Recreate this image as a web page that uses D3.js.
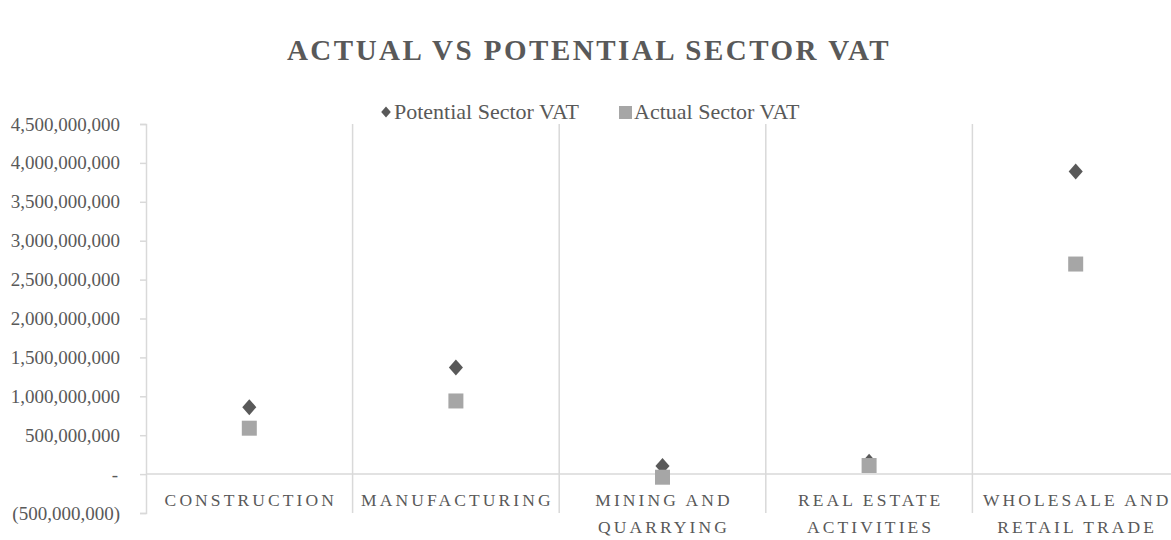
<!DOCTYPE html>
<html>
<head>
<meta charset="utf-8">
<script src="https://cdn.jsdelivr.net/npm/d3@7"></script>
<style>
  body { margin: 0; background: #fff; }
  svg { display: block; font-family: "Liberation Serif", "DejaVu Serif", serif; }
</style>
</head>
<body>
<div id="chart"></div>
<script>
// Data
const categories = [["CONSTRUCTION"], ["MANUFACTURING"], ["MINING AND", "QUARRYING"], ["REAL ESTATE", "ACTIVITIES"], ["WHOLESALE AND", "RETAIL TRADE"]];
const potentialVAT = [860000000, 1370000000, 105000000, 160000000, 3890000000];
const actualVAT = [590000000, 940000000, -40000000, 110000000, 2700000000];
const yTicks = [-500000000, 0, 500000000, 1000000000, 1500000000, 2000000000, 2500000000, 3000000000, 3500000000, 4000000000, 4500000000];
const seriesNames = ["Potential Sector VAT", "Actual Sector VAT"];

(function() {
const W = 1171, H = 540;
const left = 146, right = 1179, top = 124, bottom = 513;

const svg = d3.select("#chart")
  .append("svg")
  .attr("width", W)
  .attr("height", H);

const keys = categories.map(c => c.join(" "));
const x = d3.scaleBand().domain(keys).range([left, right]).padding(0);
const y = d3.scaleLinear().domain([-500000000, 4500000000]).range([bottom, top]);

const grid = "#d9d9d9";
const txt = "#595959";

// Title
svg.append("text")
  .attr("x", 589)
  .attr("y", 60)
  .attr("text-anchor", "middle")
  .attr("fill", txt)
  .style("font-size", "29px")
  .style("font-weight", "bold")
  .style("letter-spacing", "2.5px")
  .text("ACTUAL VS POTENTIAL SECTOR VAT");

// Vertical category dividers
svg.selectAll(".divider")
  .data(keys.slice(1).concat([null]))
  .enter()
  .append("line")
  .attr("x1", (d, i) => left + x.bandwidth() * (i + 1))
  .attr("x2", (d, i) => left + x.bandwidth() * (i + 1))
  .attr("y1", top)
  .attr("y2", bottom)
  .attr("stroke", grid)
  .attr("stroke-width", 1.5);

// Y axis
const fmt = d3.format(",");
const yAxis = svg.append("g")
  .attr("transform", `translate(${left},0)`)
  .call(d3.axisLeft(y)
    .tickValues(yTicks)
    .tickSize(6)
    .tickPadding(20)
    .tickFormat(d => d === 0 ? "-" : d < 0 ? `(${fmt(-d)})` : fmt(d)));
yAxis.select(".domain").attr("stroke", grid).attr("stroke-width", 1.5);
yAxis.selectAll(".tick line").attr("stroke", grid).attr("stroke-width", 1.5);
yAxis.selectAll(".tick text")
  .attr("fill", txt)
  .style("font-size", "19px")
  .style("font-family", "'Liberation Serif', serif");
yAxis.selectAll(".tick")
  .filter(d => d === 0)
  .select("text")
  .attr("dx", -2);

// Zero line
svg.append("line")
  .attr("x1", left)
  .attr("x2", right)
  .attr("y1", y(0))
  .attr("y2", y(0))
  .attr("stroke", grid)
  .attr("stroke-width", 1.5);

// Category labels
categories.forEach((lines, i) => {
  const cx = x(keys[i]) + x.bandwidth() / 2 + 1.5;
  const t = svg.append("text")
    .attr("x", cx)
    .attr("y", 506)
    .attr("text-anchor", "middle")
    .attr("fill", txt)
    .style("font-size", "17.5px")
    .style("letter-spacing", "3.1px");
  lines.forEach((l, j) => {
    t.append("tspan")
      .attr("x", cx)
      .attr("dy", j === 0 ? 0 : 27)
      .text(l);
  });
});

// Markers
const diamond = d3.symbol(d3.symbolSquare, 128);
const square = d3.symbol(d3.symbolSquare, 225);

svg.selectAll(".potential")
  .data(potentialVAT)
  .enter()
  .append("path")
  .attr("d", diamond)
  .attr("transform", (d, i) => `translate(${x(keys[i]) + x.bandwidth() / 2},${y(d)}) scale(0.88,1) rotate(45)`)
  .attr("fill", "#595959");

svg.selectAll(".actual")
  .data(actualVAT)
  .enter()
  .append("path")
  .attr("d", square)
  .attr("transform", (d, i) => `translate(${x(keys[i]) + x.bandwidth() / 2},${y(d)})`)
  .attr("fill", "#a6a6a6");

// Legend
const legend = svg.append("g").attr("transform", "translate(386,112)");
legend.append("path")
  .attr("d", d3.symbol(d3.symbolSquare, 60))
  .attr("transform", "scale(0.88,1) rotate(45)")
  .attr("fill", "#595959");
legend.append("text")
  .attr("x", 8)
  .attr("y", 7)
  .attr("fill", txt)
  .style("font-size", "22px")
  .text(seriesNames[0]);
legend.append("rect")
  .attr("x", 233)
  .attr("y", -6)
  .attr("width", 13)
  .attr("height", 13)
  .attr("fill", "#a6a6a6");
legend.append("text")
  .attr("x", 248)
  .attr("y", 7)
  .attr("fill", txt)
  .style("font-size", "22px")
  .text(seriesNames[1]);
})();
</script>
</body>
</html>
